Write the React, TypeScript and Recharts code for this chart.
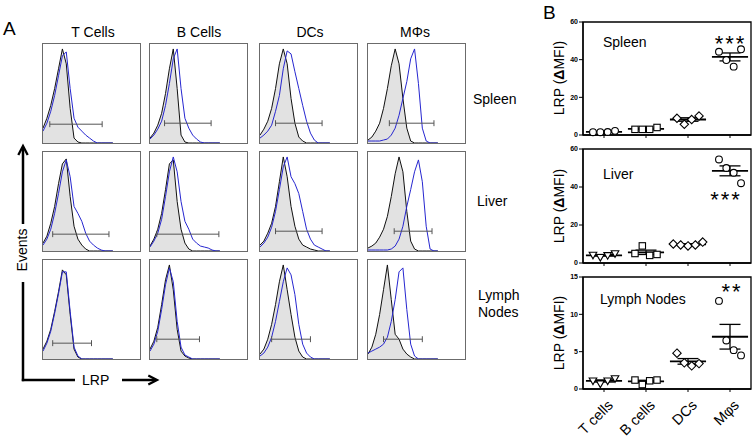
import React from 'react';
import {
  ComposedChart, Area, Line, XAxis, YAxis, ReferenceLine,
  ScatterChart, Scatter, ReferenceArea,
} from 'recharts';

const FONT = '"Liberation Sans", Arial, Helvetica, sans-serif';

// ---------- Panel A: histogram data (LRP bins, % of max events) ----------
const LRP_BINS = [0, 4, 8, 12, 16, 20, 24, 28, 32, 36, 40, 44, 48, 52, 56, 60, 64, 68, 72];

const SPLEEN_T_ISO = [15, 25, 38, 55, 75, 95, 80, 35, 5, 1, 0, 0, 0, 0, 0, 0, 0, 0, 0];
const SPLEEN_T_LRP = [12, 20, 32, 48, 68, 88, 92, 55, 25, 16, 12, 8, 5, 2, 0, 0, 0, 0, 0];
const SPLEEN_B_ISO = [5, 10, 18, 30, 50, 75, 95, 55, 8, 1, 0, 0, 0, 0, 0, 0, 0, 0, 0];
const SPLEEN_B_LRP = [4, 8, 14, 22, 38, 60, 85, 95, 55, 25, 15, 8, 4, 1, 0, 0, 0, 0, 0];
const SPLEEN_DC_ISO = [8, 14, 22, 35, 55, 80, 95, 80, 45, 20, 6, 2, 0, 0, 0, 0, 0, 0, 0];
const SPLEEN_DC_LRP = [5, 8, 12, 18, 32, 48, 75, 93, 90, 72, 55, 38, 22, 10, 3, 0, 0, 0, 0];
const SPLEEN_M_ISO = [3, 6, 12, 20, 35, 55, 78, 95, 80, 45, 15, 2, 0, 0, 0, 0, 0, 0, 0];
const SPLEEN_M_LRP = [2, 2, 2, 2, 3, 4, 8, 15, 28, 45, 62, 85, 95, 60, 15, 2, 0, 0, 0];

const LIVER_T_ISO = [8, 15, 28, 45, 68, 88, 93, 55, 25, 12, 6, 2, 0, 0, 0, 0, 0, 0, 0];
const LIVER_T_LRP = [6, 12, 22, 38, 58, 80, 92, 75, 45, 38, 30, 18, 10, 6, 3, 1, 0, 0, 0];
const LIVER_B_ISO = [5, 12, 22, 38, 62, 88, 92, 50, 22, 8, 2, 0, 0, 0, 0, 0, 0, 0, 0];
const LIVER_B_LRP = [4, 10, 18, 32, 55, 80, 95, 80, 50, 30, 22, 12, 8, 5, 4, 3, 1, 0, 0];
const LIVER_DC_ISO = [6, 10, 18, 28, 45, 70, 95, 75, 45, 25, 12, 6, 4, 2, 1, 0, 0, 0, 0];
const LIVER_DC_LRP = [4, 8, 14, 24, 40, 62, 85, 95, 75, 68, 58, 40, 22, 12, 6, 4, 2, 0, 0];
const LIVER_M_ISO = [3, 5, 8, 14, 22, 35, 55, 78, 95, 80, 40, 10, 2, 0, 0, 0, 0, 0, 0];
const LIVER_M_LRP = [1, 1, 1, 1, 1, 1, 2, 5, 12, 25, 45, 62, 80, 92, 70, 25, 2, 0, 0];

const LN_T_ISO = [10, 18, 30, 48, 68, 90, 85, 45, 10, 2, 0, 0, 0, 0, 0, 0, 0, 0, 0];
const LN_T_LRP = [8, 16, 28, 46, 66, 88, 88, 48, 12, 3, 0, 0, 0, 0, 0, 0, 0, 0, 0];
const LN_B_ISO = [10, 18, 32, 55, 80, 95, 70, 30, 8, 3, 1, 0, 0, 0, 0, 0, 0, 0, 0];
const LN_B_LRP = [8, 15, 28, 50, 75, 92, 78, 38, 12, 4, 2, 0, 0, 0, 0, 0, 0, 0, 0];
const LN_DC_ISO = [5, 10, 20, 35, 55, 78, 95, 70, 45, 22, 8, 2, 0, 0, 0, 0, 0, 0, 0];
const LN_DC_LRP = [3, 6, 12, 22, 38, 58, 78, 92, 85, 65, 35, 15, 6, 2, 0, 0, 0, 0, 0];
const LN_M_ISO = [5, 12, 25, 45, 70, 95, 60, 25, 20, 10, 5, 2, 0, 0, 0, 0, 0, 0, 0];
const LN_M_LRP = [6, 8, 10, 12, 15, 22, 38, 60, 88, 92, 50, 15, 3, 0, 0, 0, 0, 0, 0];

// gate markers: [start, end, level]
const SPLEEN_GATES = [[7, 61, 19], [15, 63, 20], [16, 64, 20], [22, 68, 20]];
const LIVER_GATES = [[10, 68, 17], [7, 71, 17], [16, 64, 20], [27, 66, 20]];
const LN_GATES = [[10, 50, 16], [7, 51, 20], [12, 52, 20], [16, 56, 20]];

const CELL_TYPES_A = ['T Cells', 'B Cells', 'DCs', 'MΦs'];
const TISSUES = ['Spleen', 'Liver', 'Lymph Nodes'];

// ---------- Panel B: ΔMFI values ----------
const CELL_TYPES_B = ['T cells', 'B cells', 'DCs', 'Mφs'];

const SPLEEN_T = [1.5, 1.5, 1.6, 2.2];
const SPLEEN_B = [3, 3, 3, 4];
const SPLEEN_DC = [8.9, 5.7, 8.2, 10.1];
const SPLEEN_M = [44.2, 39.8, 36.3, 45.5];

const LIVER_T = [4.2, 3, 4, 5];
const LIVER_B = [5, 9, 4, 4.5];
const LIVER_DC = [10, 9.5, 9, 9.5, 11];
const LIVER_M = [54.5, 50, 47.5, 42];

const LN_T = [1.1, 0.7, 1.1, 1.4];
const LN_B = [1.2, 0.6, 1.1, 1.2];
const LN_DC = [4.8, 3.5, 3.1, 3.4];
const LN_M = [11.8, 6.5, 5.2, 4.5];

const SPLEEN_TICKS = [0, 20, 40, 60];
const LIVER_TICKS = [0, 20, 40, 60];
const LN_TICKS = [0, 5, 10, 15];

// ---------- helpers ----------
const HIST_GRID = [
  [
    [SPLEEN_T_ISO, SPLEEN_T_LRP], [SPLEEN_B_ISO, SPLEEN_B_LRP],
    [SPLEEN_DC_ISO, SPLEEN_DC_LRP], [SPLEEN_M_ISO, SPLEEN_M_LRP],
  ],
  [
    [LIVER_T_ISO, LIVER_T_LRP], [LIVER_B_ISO, LIVER_B_LRP],
    [LIVER_DC_ISO, LIVER_DC_LRP], [LIVER_M_ISO, LIVER_M_LRP],
  ],
  [
    [LN_T_ISO, LN_T_LRP], [LN_B_ISO, LN_B_LRP],
    [LN_DC_ISO, LN_DC_LRP], [LN_M_ISO, LN_M_LRP],
  ],
];
const GATE_GRID = [SPLEEN_GATES, LIVER_GATES, LN_GATES];

const BOX_LEFTS = [42, 149, 259, 367];
const BOX_TOPS = [43, 151, 259];
const BOX_W = 99;
const BOX_H = 101;

function Histogram({ iso, lrp, gate, left, top }: any) {
  const data = LRP_BINS.map((x, i) => ({ x, iso: iso[i], lrp: lrp[i] }));
  const [g0, g1, gy] = gate;
  const gs = { stroke: '#555', strokeWidth: 1 };
  return (
    <div
      style={{
        position: 'absolute', left, top, width: BOX_W, height: BOX_H,
        border: '1px solid #6b6b6b', boxSizing: 'border-box', background: '#fff',
      }}
    >
      <ComposedChart width={BOX_W - 2} height={BOX_H - 2} data={data} margin={{ top: 0, right: 0, bottom: 0, left: 0 }}>
        <XAxis dataKey="x" type="number" domain={[0, 100]} hide />
        <YAxis type="number" domain={[0, 100]} hide />
        <Area type="linear" dataKey="iso" stroke="#111" strokeWidth={1} fill="#e2e2e2" fillOpacity={1}
          dot={false} activeDot={false} isAnimationActive={false} />
        <Line type="linear" dataKey="lrp" stroke="#2626d0" strokeWidth={1} dot={false} activeDot={false}
          isAnimationActive={false} />
        <ReferenceLine segment={[{ x: g0, y: gy }, { x: g1, y: gy }]} {...gs} />
        <ReferenceLine segment={[{ x: g0, y: gy - 3 }, { x: g0, y: gy + 3 }]} {...gs} />
        <ReferenceLine segment={[{ x: g1, y: gy - 3 }, { x: g1, y: gy + 3 }]} {...gs} />
      </ComposedChart>
    </div>
  );
}

const mean = (a: number[]) => a.reduce((s, v) => s + v, 0) / a.length;
const sem = (a: number[]) => {
  const m = mean(a);
  return Math.sqrt(a.reduce((s, v) => s + (v - m) * (v - m), 0) / (a.length - 1)) / Math.sqrt(a.length);
};

const makeMarker = (kind: string) => (props: any) => {
  const { cx, cy } = props;
  const common = { fill: '#fff', stroke: '#000', strokeWidth: 1.1 };
  if (kind === 'circle') return <circle cx={cx} cy={cy} r={3.4} {...common} />;
  if (kind === 'square') return <rect x={cx - 3.2} y={cy - 3.2} width={6.4} height={6.4} {...common} />;
  if (kind === 'diamond')
    return <polygon points={`${cx},${cy - 4.2} ${cx + 4.2},${cy} ${cx},${cy + 4.2} ${cx - 4.2},${cy}`} {...common} />;
  return <polygon points={`${cx - 3.8},${cy - 2.8} ${cx + 3.8},${cy - 2.8} ${cx},${cy + 3.8}`} {...common} />;
};

const RotTick = (props: any) => {
  const { x, y, payload } = props;
  const label = CELL_TYPES_B[Math.round(payload.value - 0.5)];
  const ax = x + 10;
  const ay = y + 12;
  return (
    <text x={ax} y={ay} transform={`rotate(-45, ${ax}, ${ay})`} textAnchor="end"
      fontSize={14.5} fontFamily={FONT} fill="#000">{label}</text>
  );
};
const EmptyTick = () => <g />;

function DotPlot({ groups, shapes, yMax, yTicks, top, height, marginTop, xAxisHeight, showLabels }: any) {
  const step = 0.175;
  return (
    <div style={{ position: 'absolute', left: 540, top, width: 216, height }}>
      <ScatterChart width={216} height={height} margin={{ top: marginTop, right: 5, bottom: 0, left: 0 }}>
        <XAxis dataKey="x" type="number" domain={[0, 4]} ticks={[0.5, 1.5, 2.5, 3.5]} height={xAxisHeight}
          tickSize={3} tickLine={{ stroke: '#000' }} axisLine={{ stroke: '#000', strokeWidth: 1.3 }}
          tick={showLabels ? RotTick : EmptyTick} interval={0} />
        <YAxis dataKey="y" type="number" domain={[0, yMax]} ticks={yTicks} width={43} tickSize={4}
          tickLine={{ stroke: '#000' }} axisLine={{ stroke: '#000', strokeWidth: 1.3 }}
          tick={{ fontSize: 7, fontWeight: 'bold', fill: '#000', fontFamily: FONT }} tickMargin={1} interval={0} />
        <ReferenceArea x1={0} x2={4} y1={0} y2={yMax} fill="#fff" fillOpacity={0} stroke="#000" strokeWidth={1.3} />
        {groups.map((vals: number[], c: number) => (
          <Scatter key={'s' + c} isAnimationActive={false} shape={makeMarker(shapes[c])}
            data={vals.map((v, j) => ({ x: c + 0.5 + (j - (vals.length - 1) / 2) * step, y: v }))} />
        ))}
        {groups.map((vals: number[], c: number) => {
          const m = mean(vals);
          const e = sem(vals);
          const cx = c + 0.5;
          return (
            <React.Fragment key={'m' + c}>
              <ReferenceLine segment={[{ x: cx - 0.43, y: m }, { x: cx + 0.43, y: m }]} stroke="#000" strokeWidth={1.8} />
              <ReferenceLine segment={[{ x: cx, y: m - e }, { x: cx, y: m + e }]} stroke="#000" strokeWidth={1.3} />
              <ReferenceLine segment={[{ x: cx - 0.25, y: m + e }, { x: cx + 0.25, y: m + e }]} stroke="#000" strokeWidth={1.3} />
              <ReferenceLine segment={[{ x: cx - 0.25, y: m - e }, { x: cx + 0.25, y: m - e }]} stroke="#000" strokeWidth={1.3} />
            </React.Fragment>
          );
        })}
      </ScatterChart>
    </div>
  );
}

const txt = (s: string, left: number, top: number, size = 14, extra: any = {}) => (
  <div style={{
    position: 'absolute', left, top, fontSize: size, lineHeight: `${size}px`,
    fontFamily: FONT, color: '#000', whiteSpace: 'nowrap', ...extra,
  }}>{s}</div>
);

const centered = (s: string, cx: number, top: number, size = 14, extra: any = {}) => (
  <div style={{
    position: 'absolute', left: cx - 50, top, width: 100, textAlign: 'center', fontSize: size,
    lineHeight: `${size}px`, fontFamily: FONT, color: '#000', whiteSpace: 'nowrap', ...extra,
  }}>{s}</div>
);

const YLabel = ({ cy }: any) => (
  <div style={{
    position: 'absolute', left: 559 - 60, top: cy - 8, width: 120, height: 16, textAlign: 'center',
    fontSize: 14, lineHeight: '16px', fontFamily: FONT, color: '#000', whiteSpace: 'nowrap',
    transform: 'rotate(-90deg)', transformOrigin: '60px 8px',
  }}>LRP (<b>Δ</b>MFI)</div>
);

export default function App() {
  const colCenters = [93, 199, 310, 415];
  const starStyle = { letterSpacing: '2px', textIndent: '2px' };
  return (
    <div style={{ position: 'absolute', left: 0, top: 0, width: 756, height: 440, background: '#fff', overflow: 'hidden' }}>
      {/* Panel A */}
      {txt('A', 3, 19, 19)}
      {CELL_TYPES_A.map((c, i) => <React.Fragment key={c}>{centered(c, colCenters[i], 25)}</React.Fragment>)}
      {HIST_GRID.map((row, r) =>
        row.map((pair, c) => (
          <Histogram key={`${r}-${c}`} iso={pair[0]} lrp={pair[1]} gate={GATE_GRID[r][c]}
            left={BOX_LEFTS[c]} top={BOX_TOPS[r]} />
        )),
      )}
      {txt(TISSUES[0], 473, 92)}
      {txt(TISSUES[1], 477, 194)}
      {txt('Lymph', 478, 288)}
      {txt('Nodes', 478, 305)}

      <svg style={{ position: 'absolute', left: 0, top: 0 }} width={200} height={440}>
        <line x1={23} y1={147} x2={23} y2={224} stroke="#000" strokeWidth={2.5} />
        <polyline points="18.3,155 23,146 27.7,155" fill="none" stroke="#000" strokeWidth={2.3} />
        <line x1={23} y1={282} x2={23} y2={381.2} stroke="#000" strokeWidth={2.5} />
        <line x1={21.8} y1={380} x2={75} y2={380} stroke="#000" strokeWidth={2.5} />
        <line x1={122} y1={380} x2={156} y2={380} stroke="#000" strokeWidth={2.5} />
        <polyline points="148.3,375.5 157,380 148.3,384.5" fill="none" stroke="#000" strokeWidth={2.3} />
      </svg>
      <div style={{
        position: 'absolute', left: 22 - 40, top: 250 - 8, width: 80, height: 16, textAlign: 'center',
        fontSize: 14, lineHeight: '16px', fontFamily: FONT, transform: 'rotate(-90deg)', transformOrigin: '40px 8px',
      }}>Events</div>
      {txt('LRP', 82, 373)}

      {/* Panel B */}
      {txt('B', 543, 3, 19)}
      <DotPlot groups={[SPLEEN_T, SPLEEN_B, SPLEEN_DC, SPLEEN_M]} shapes={['circle', 'square', 'diamond', 'circle']}
        yMax={60} yTicks={SPLEEN_TICKS} top={0} height={145} marginTop={22} xAxisHeight={10} showLabels={false} />
      <DotPlot groups={[LIVER_T, LIVER_B, LIVER_DC, LIVER_M]} shapes={['tri', 'square', 'diamond', 'circle']}
        yMax={60} yTicks={LIVER_TICKS} top={145} height={128} marginTop={4} xAxisHeight={10} showLabels={false} />
      <DotPlot groups={[LN_T, LN_B, LN_DC, LN_M]} shapes={['tri', 'square', 'diamond', 'circle']}
        yMax={15} yTicks={LN_TICKS} top={273} height={167} marginTop={4} xAxisHeight={51} showLabels={true} />

      <YLabel cy={78} />
      <YLabel cy={206} />
      <YLabel cy={333} />
      {txt('Spleen', 603, 35)}
      {txt('Liver', 603, 167)}
      {txt('Lymph Nodes', 600, 292)}
      {centered('***', 729.5, 33, 22, starStyle)}
      {centered('***', 725, 189, 22, starStyle)}
      {centered('**', 731, 281, 22, starStyle)}
    </div>
  );
}
